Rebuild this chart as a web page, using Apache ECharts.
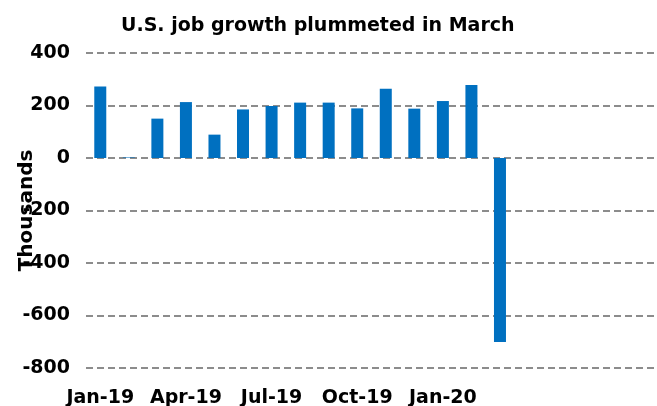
<!DOCTYPE html>
<html>
<head>
<meta charset="utf-8">
<script src="https://cdn.jsdelivr.net/npm/echarts@6/dist/echarts.min.js"></script>
<style>
html, body { margin: 0; padding: 0; background: #fff; }
#chart { width: 657px; height: 406px; }
</style>
</head>
<body>
<div id="chart"></div>
<script>
// monthly payroll change, thousands
var months = ['Jan-19', 'Feb-19', 'Mar-19', 'Apr-19', 'May-19', 'Jun-19', 'Jul-19', 'Aug-19',
              'Sep-19', 'Oct-19', 'Nov-19', 'Dec-19', 'Jan-20', 'Feb-20', 'Mar-20'];
var jobs = [272, 2, 150, 213, 89, 185, 198, 211, 211, 189, 264, 188, 217, 278, -701];
// empty slots on the right so the plot keeps going to the edge
var padSlots = ['', '', '', '', ''];
var yTicks = [-800, -600, -400, -200, 0, 200, 400];

var cats = months.concat(padSlots);
var font = 'DejaVu Sans';

var myChart = echarts.init(document.getElementById('chart'));
var option = {
    animation: false,
    title: {
        text: 'U.S. job growth plummeted in March',
        left: 116,
        top: 12,
        textStyle: { fontFamily: font, fontSize: 19, fontWeight: 'bold', color: '#000' }
    },
    grid: { left: 86, right: 0, top: 53, bottom: 38, containLabel: false, outerBoundsMode: 'none' },
    xAxis: {
        type: 'category',
        data: cats,
        axisLine: { show: false },
        axisTick: { show: false },
        axisLabel: {
            interval: function (i, v) { return i % 3 === 0 && v !== ''; },
            margin: 21,
            fontFamily: font, fontSize: 19, fontWeight: 'bold', color: '#000'
        }
    },
    yAxis: {
        type: 'value',
        min: yTicks[0],
        max: yTicks[yTicks.length - 1],
        interval: 200,
        name: 'Thousands',
        nameLocation: 'middle',
        nameGap: 49,
        nameMoveOverlap: false,
        nameTextStyle: { fontFamily: font, fontSize: 20, fontWeight: 'bold', color: '#000' },
        axisLine: { show: false },
        axisTick: { show: false },
        axisLabel: { margin: 16, fontFamily: font, fontSize: 19, fontWeight: 'bold', color: '#000' },
        splitLine: { lineStyle: { color: '#8c8c8c', width: 2, type: [7, 4] } }
    },
    series: [{
        type: 'bar',
        data: jobs,
        barWidth: 12,
        itemStyle: { color: '#0070C0' }
    }]
};
myChart.setOption(option);
</script>
</body>
</html>
